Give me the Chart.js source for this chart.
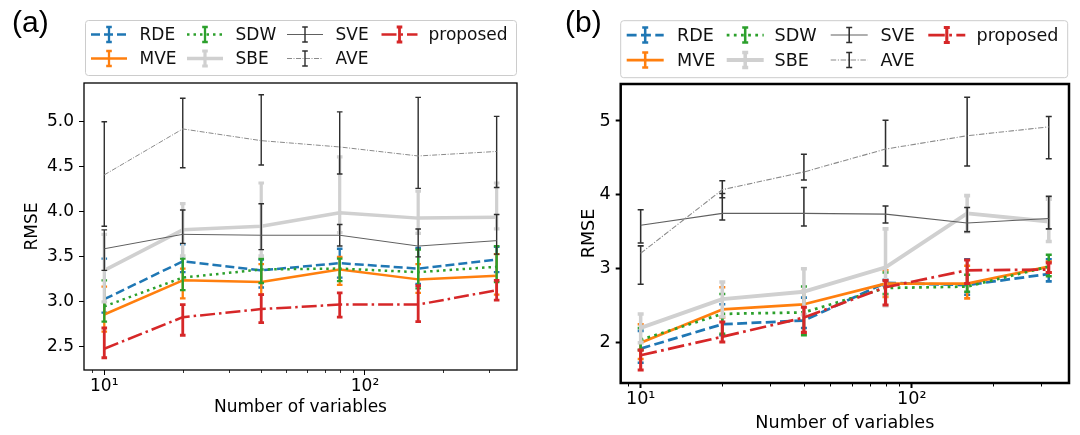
<!DOCTYPE html>
<html><head><meta charset="utf-8">
<script src="https://cdn.jsdelivr.net/npm/chart.js@4.4.1/dist/chart.umd.min.js"></script>
<style>
html,body{margin:0;padding:0;background:#fff;width:1080px;height:435px;overflow:hidden;}
canvas{position:absolute;top:0;}
#ca{left:0}
#cb{left:545px}
</style></head><body>
<canvas id="ca" width="545" height="435"></canvas>
<canvas id="cb" width="535" height="435"></canvas>
<script>
// ---------- data ----------
const numVariables = [10, 20, 40, 80, 160, 320];
const seriesNames = ['RDE', 'MVE', 'SDW', 'SBE', 'SVE', 'AVE', 'proposed'];
const xTickValues = [9, 10, 20, 30, 40, 50, 60, 70, 80, 90, 100, 200, 300];
const xTickLabels = { 10: '10¹', 100: '10²' };
const yTicksA = [2.5, 3.0, 3.5, 4.0, 4.5, 5.0];
const yTicksB = [2, 3, 4, 5];
const panelLabels = ['(a)', '(b)'];
const xTitle = 'Number of variables';
const yTitle = 'RMSE';

// panel (a): mean, lower and upper end of error bar
const aRDE    = [3.03, 3.45, 3.35, 3.43, 3.37, 3.47];
const aRDElo  = [2.88, 3.33, 3.16, 3.27, 3.20, 3.33];
const aRDEhi  = [3.48, 3.64, 3.47, 3.59, 3.60, 3.61];
const aMVE    = [2.86, 3.24, 3.22, 3.36, 3.25, 3.29];
const aMVElo  = [2.67, 3.04, 3.08, 3.19, 3.10, 3.08];
const aMVEhi  = [3.17, 3.37, 3.42, 3.50, 3.42, 3.53];
const aSDW    = [2.95, 3.27, 3.36, 3.37, 3.33, 3.39];
const aSDWlo  = [2.78, 3.13, 3.21, 3.23, 3.15, 3.22];
const aSDWhi  = [3.24, 3.48, 3.48, 3.48, 3.58, 3.62];
const aSBE    = [3.35, 3.80, 3.84, 3.99, 3.93, 3.94];
const aSBElo  = [3.00, 3.51, 3.51, 3.77, 3.76, 3.81];
const aSBEhi  = [3.75, 4.09, 4.32, 4.61, 4.23, 4.32];
const aSVE    = [3.59, 3.75, 3.74, 3.74, 3.62, 3.68];
const aSVElo  = [3.35, 3.65, 3.58, 3.62, 3.50, 3.53];
const aSVEhi  = [3.80, 4.02, 4.09, 3.86, 3.81, 3.97];
const aAVE    = [4.41, 4.92, 4.79, 4.72, 4.62, 4.67];
const aAVElo  = [3.84, 4.49, 4.52, 4.42, 4.26, 4.27];
const aAVEhi  = [5.00, 5.26, 5.30, 5.11, 5.27, 5.06];
const aProp   = [2.48, 2.83, 2.92, 2.97, 2.97, 3.13];
const aProplo = [2.38, 2.63, 2.77, 2.83, 2.78, 3.02];
const aProphi = [2.71, 2.97, 3.08, 3.10, 3.18, 3.24];

// panel (b)
const bRDE    = [1.92, 2.25, 2.30, 2.81, 2.78, 2.93];
const bRDElo  = [1.73, 2.10, 2.20, 2.77, 2.65, 2.83];
const bRDEhi  = [2.16, 2.52, 2.61, 2.85, 3.13, 3.13];
const bMVE    = [2.00, 2.45, 2.52, 2.80, 2.80, 3.03];
const bMVElo  = [1.78, 2.34, 2.38, 2.62, 2.60, 2.95];
const bMVEhi  = [2.25, 2.75, 2.70, 2.98, 3.04, 3.10];
const bSDW    = [2.04, 2.39, 2.41, 2.74, 2.76, 3.03];
const bSDWlo  = [1.90, 2.12, 2.10, 2.66, 2.69, 2.90];
const bSDWhi  = [2.20, 2.66, 2.76, 2.95, 2.92, 3.19];
const bSBE    = [2.20, 2.59, 2.69, 3.02, 3.75, 3.64];
const bSBElo  = [2.00, 2.35, 2.38, 2.50, 3.50, 3.37];
const bSBEhi  = [2.39, 2.82, 3.00, 3.54, 3.99, 3.94];
const bSVE    = [3.59, 3.75, 3.75, 3.74, 3.62, 3.68];
const bSVElo  = [3.35, 3.66, 3.58, 3.62, 3.50, 3.54];
const bSVEhi  = [3.80, 4.02, 4.10, 3.85, 3.83, 3.98];
const bAVE    = [3.21, 4.07, 4.31, 4.62, 4.80, 4.92];
const bAVElo  = [2.79, 3.96, 4.20, 4.39, 4.39, 4.49];
const bAVEhi  = [3.31, 4.19, 4.55, 5.01, 5.32, 5.06];
const bProp   = [1.83, 2.08, 2.34, 2.75, 2.98, 2.99];
const bProplo = [1.63, 2.01, 2.14, 2.51, 2.80, 2.95];
const bProphi = [1.90, 2.28, 2.48, 2.84, 3.12, 3.08];

// ---------- styles ----------
const styles = {
  RDE:      { color: '#1f77b4', width: 2.5, dash: [9, 4],        err: '#1f77b4', errW: 2.3 },
  MVE:      { color: '#ff7f0e', width: 2.5, dash: [],            err: '#ff7f0e', errW: 2.3 },
  SDW:      { color: '#2ca02c', width: 2.5, dash: [2.5, 4],      err: '#2ca02c', errW: 2.3 },
  SBE:      { color: '#d0d0d0', width: 3.5, dash: [],            err: '#d0d0d0', errW: 3.2 },
  SVE:      { color: '#606060', width: 1.0, dash: [],            err: '#2e2e2e', errW: 1.4 },
  AVE:      { color: '#8a8a8a', width: 1.0, dash: [5, 1.5, 1, 1.5], err: '#2e2e2e', errW: 1.4 },
  proposed: { color: '#d62728', width: 2.5, dash: [15, 4, 2.5, 4], err: '#d62728', errW: 2.8 }
};

Chart.defaults.font.family = '"DejaVu Sans", sans-serif';
Chart.defaults.color = '#000';

function buildDatasets(means, los, his, k) {
  return seriesNames.map((name, i) => {
    const s = styles[name];
    return {
      label: name,
      data: numVariables.map((x, j) => ({ x: x, y: means[i][j] })),
      errLo: los[i], errHi: his[i],
      errColor: s.err, errWidth: s.errW * k,
      borderColor: s.color, borderWidth: s.width * k, borderDash: s.dash.map(d => d * k),
      borderCapStyle: 'butt', borderJoinStyle: 'round',
      pointRadius: 0, fill: false, tension: 0, order: -i
    };
  });
}

const errorBarPlugin = {
  id: 'errbars',
  beforeDatasetDraw(chart, args) {
    const ds = chart.data.datasets[args.index];
    if (!ds.errLo) return;
    const { ctx, chartArea: a } = chart;
    const x = chart.scales.x, y = chart.scales.y;
    const cap = chart.options.plugins.decor.cap;
    ctx.save();
    ctx.beginPath(); ctx.rect(a.left, a.top, a.right - a.left, a.bottom - a.top); ctx.clip();
    ctx.strokeStyle = ds.errColor; ctx.lineWidth = ds.errWidth; ctx.setLineDash([]); ctx.lineCap = 'butt';
    ds.data.forEach((p, i) => {
      const px = x.getPixelForValue(p.x);
      const y1 = y.getPixelForValue(ds.errLo[i]);
      const y2 = y.getPixelForValue(ds.errHi[i]);
      ctx.beginPath();
      ctx.moveTo(px, y1); ctx.lineTo(px, y2);
      ctx.moveTo(px - cap, y1); ctx.lineTo(px + cap, y1);
      ctx.moveTo(px - cap, y2); ctx.lineTo(px + cap, y2);
      ctx.stroke();
    });
    ctx.restore();
  }
};

const decorPlugin = {
  id: 'decor',
  afterDraw(chart) {
    const o = chart.options.plugins.decor;
    const { ctx, chartArea: a } = chart;
    const x = chart.scales.x;
    ctx.save();
    // minor ticks
    ctx.strokeStyle = '#000'; ctx.lineWidth = o.minorW; ctx.setLineDash([]);
    xTickValues.forEach(v => {
      if (xTickLabels[v]) return;
      const px = Math.round(x.getPixelForValue(v)) + 0.5;
      ctx.beginPath(); ctx.moveTo(px, a.bottom); ctx.lineTo(px, a.bottom + o.minorLen); ctx.stroke();
    });
    // frame
    ctx.lineWidth = o.frameW; ctx.strokeStyle = '#000';
    ctx.strokeRect(a.left, a.top, a.right - a.left, a.bottom - a.top);
    // legend
    const lg = o.legend;
    ctx.lineWidth = 1; ctx.strokeStyle = '#cccccc'; ctx.fillStyle = 'rgba(255,255,255,0.8)';
    ctx.beginPath();
    if (ctx.roundRect) ctx.roundRect(lg.x, lg.y, lg.w, lg.h, 3); else ctx.rect(lg.x, lg.y, lg.w, lg.h);
    ctx.fill(); ctx.stroke();
    chart.data.datasets.forEach((ds, i) => {
      const col = Math.floor(i / 2), row = i % 2;
      const hx = lg.cols[col], ty = lg.rows[row];
      ctx.strokeStyle = ds.borderColor; ctx.lineWidth = ds.borderWidth;
      ctx.setLineDash(ds.borderDash || []); ctx.lineCap = 'butt';
      ctx.beginPath(); ctx.moveTo(hx, ty); ctx.lineTo(hx + lg.len, ty); ctx.stroke();
      ctx.setLineDash([]);
      const cx = hx + lg.len / 2;
      ctx.strokeStyle = ds.errColor; ctx.lineWidth = ds.errWidth;
      ctx.beginPath();
      ctx.moveTo(cx, ty - lg.eh); ctx.lineTo(cx, ty + lg.eh);
      ctx.moveTo(cx - o.cap, ty - lg.eh); ctx.lineTo(cx + o.cap, ty - lg.eh);
      ctx.moveTo(cx - o.cap, ty + lg.eh); ctx.lineTo(cx + o.cap, ty + lg.eh);
      ctx.stroke();
      ctx.fillStyle = '#111'; ctx.font = lg.size + 'px "DejaVu Sans"';
      ctx.textBaseline = 'middle'; ctx.textAlign = 'left';
      ctx.fillText(ds.label, lg.textX[col], ty + 1);
    });
    // panel label
    ctx.fillStyle = '#000'; ctx.font = o.panel.size + 'px "Liberation Sans"';
    ctx.textBaseline = 'alphabetic'; ctx.textAlign = 'left';
    ctx.fillText(o.panel.text, o.panel.x, o.panel.y);
    ctx.restore();
  }
};

function makeChart(id, cfg) {
  return new Chart(document.getElementById(id), {
    type: 'line',
    data: { datasets: cfg.datasets },
    plugins: [errorBarPlugin, decorPlugin],
    options: {
      responsive: false, animation: false, devicePixelRatio: 1,
      layout: { padding: { left: 0, right: cfg.padRight, top: cfg.top, bottom: 0 } },
      plugins: {
        legend: { display: false }, tooltip: { enabled: false },
        decor: cfg.decor
      },
      scales: {
        x: {
          type: 'logarithmic', min: cfg.xmin, max: cfg.xmax,
          afterFit: s => { s.height = cfg.xAxisH; },
          afterBuildTicks: s => { s.ticks = xTickValues.map(v => ({ value: v, major: !!xTickLabels[v] })); },
          ticks: {
            autoSkip: false, maxRotation: 0, padding: 1,
            font: { size: cfg.fs }, color: '#000',
            callback: v => xTickLabels[v] || ''
          },
          grid: {
            drawOnChartArea: false, drawTicks: true, tickLength: 5, tickWidth: cfg.tickW,
            tickColor: c => (c.tick && xTickLabels[c.tick.value]) ? '#000' : 'rgba(0,0,0,0)'
          },
          border: { display: false },
          title: { display: true, text: xTitle, font: { size: cfg.fs }, color: '#000', padding: { top: 0, bottom: cfg.xTitlePad } }
        },
        y: {
          min: cfg.ymin, max: cfg.ymax,
          afterFit: s => { s.width = cfg.yAxisW; },
          afterBuildTicks: s => { s.ticks = cfg.yTicks.map(v => ({ value: v })); },
          ticks: {
            padding: 5, font: { size: cfg.fs }, color: '#000',
            callback: v => cfg.yFmt(v)
          },
          grid: { drawOnChartArea: false, drawTicks: true, tickLength: 5, tickWidth: cfg.tickW, tickColor: '#000' },
          border: { display: false },
          title: { display: true, text: yTitle, font: { size: cfg.fs }, color: '#000', padding: { top: cfg.yTitlePad, bottom: 0 } }
        }
      }
    }
  });
}

makeChart('ca', {
  datasets: buildDatasets(
    [aRDE, aMVE, aSDW, aSBE, aSVE, aAVE, aProp],
    [aRDElo, aMVElo, aSDWlo, aSBElo, aSVElo, aAVElo, aProplo],
    [aRDEhi, aMVEhi, aSDWhi, aSBEhi, aSVEhi, aAVEhi, aProphi], 1),
  padRight: 28, top: 83, xAxisH: 65, yAxisW: 84,
  xmin: 8.36, xmax: 383, ymin: 2.244, ymax: 5.43,
  yTicks: yTicksA, yFmt: v => v.toFixed(1),
  fs: 17, tickW: 1, xTitlePad: 17, yTitlePad: 22,
  decor: {
    cap: 2.8, minorLen: 3, minorW: 0.8, frameW: 1.3,
    legend: { x: 85.5, y: 20.5, w: 431, h: 55, len: 36, eh: 7.5, size: 17,
      cols: [91, 187, 287, 381.5], textX: [139.5, 235.5, 335.5, 428.5], rows: [34.5, 58.5] },
    panel: { text: panelLabels[0], x: 12, y: 32, size: 30 }
  }
});

makeChart('cb', {
  datasets: buildDatasets(
    [bRDE, bMVE, bSDW, bSBE, bSVE, bAVE, bProp],
    [bRDElo, bMVElo, bSDWlo, bSBElo, bSVElo, bAVElo, bProplo],
    [bRDEhi, bMVEhi, bSDWhi, bSBEhi, bSVEhi, bAVEhi, bProphi], 1.1),
  padRight: 11, top: 84, xAxisH: 52, yAxisW: 75.7,
  xmin: 8.44, xmax: 380, ymin: 1.455, ymax: 5.50,
  yTicks: yTicksB, yFmt: v => String(v),
  fs: 17.6, tickW: 2, xTitlePad: 1.4, yTitlePad: 33.5,
  decor: {
    cap: 3, minorLen: 3.5, minorW: 1, frameW: 2.5,
    legend: { x: 75.7, y: 20.7, w: 447, h: 57, len: 37, eh: 7.5, size: 17.6,
      cols: [81.7, 181.7, 285.7, 383.3], textX: [132, 229.5, 335.5, 431.5], rows: [35, 60] },
    panel: { text: panelLabels[1], x: 20, y: 32, size: 30 }
  }
});
</script>
</body></html>
